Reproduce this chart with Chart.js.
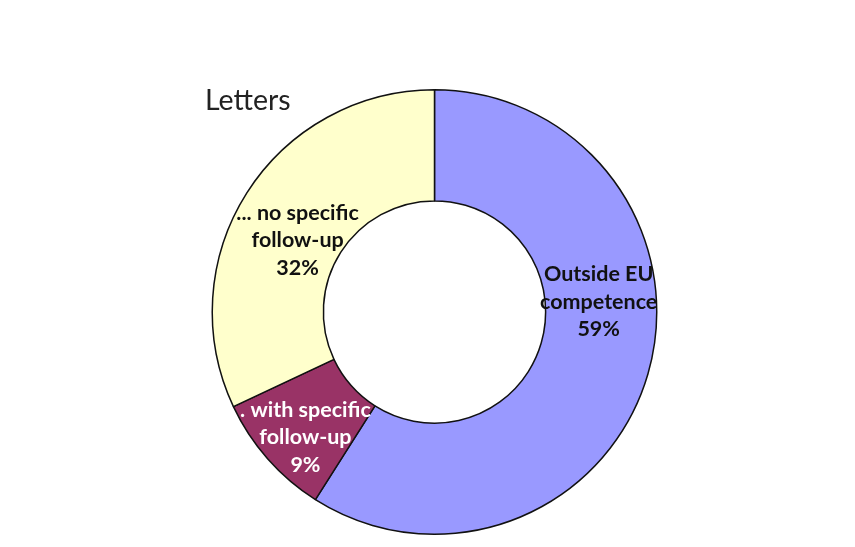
<!DOCTYPE html>
<html>
<head>
<meta charset="utf-8">
<script src="https://cdn.jsdelivr.net/npm/chart.js@4/dist/chart.umd.min.js"></script>
<style>
  html, body { margin: 0; padding: 0; background: #fff; }
  #wrap { position: relative; width: 855px; height: 547px; }
  #title {
    position: absolute; left: 205px; top: 82px;
    font-family: Lato, "Open Sans", sans-serif; font-size: 28.5px; color: #222;
  }
</style>
</head>
<body>
<div id="wrap">
  <canvas id="chart" width="855" height="547"></canvas>
  <div id="title">Letters</div>
</div>
<script>
/* ── Data ── */
const SLICE_LABELS = [
  ['Outside EU', 'competence'],
  ['. with specific', 'follow-up'],
  ['... no specific', 'follow-up'],
];
const SLICE_VALUES = [59, 9, 32];

/* ── Style ── */
const SLICE_COLORS = ['#9999ff', '#993366', '#ffffcc'];
const TEXT_COLORS  = ['#111', '#fff', '#111'];
// label placement inside each ring slice: [angle deg from 12 o'clock, fraction across ring]
const LABEL_SPOTS  = [[86.5, 0.48], [225.8, 0.62], [297.6, 0.39]];

/* ── In-slice labels ── */
const sliceLabels = {
  id: 'sliceLabels',
  afterDatasetsDraw(chart) {
    const { ctx } = chart;
    const meta = chart.getDatasetMeta(0);
    const total = SLICE_VALUES.reduce((a, b) => a + b, 0);
    ctx.save();
    ctx.font = 'bold 21.5px Lato, "Open Sans", sans-serif';
    ctx.textAlign = 'center';
    ctx.textBaseline = 'middle';
    meta.data.forEach((arc, i) => {
      const [deg, frac] = LABEL_SPOTS[i];
      const a = (deg - 90) * Math.PI / 180;
      const r = arc.innerRadius + (arc.outerRadius - arc.innerRadius) * frac;
      const x = arc.x + r * Math.cos(a);
      const y = arc.y + r * Math.sin(a);
      const pct = Math.round(SLICE_VALUES[i] / total * 100) + '%';
      const lines = [...SLICE_LABELS[i], pct];
      ctx.fillStyle = TEXT_COLORS[i];
      lines.forEach((line, k) => {
        ctx.fillText(line, x, y + (k - 1) * 27.5);
      });
    });
    ctx.restore();
  },
};

new Chart(document.getElementById('chart'), {
  type: 'doughnut',
  data: {
    labels: SLICE_LABELS.map(l => l.join(' ')),
    datasets: [{
      data:            SLICE_VALUES,
      backgroundColor: SLICE_COLORS,
      borderColor:     '#111',
      borderWidth:     1.5,
      borderAlign:     'center',
    }],
  },
  options: {
    responsive:  false,
    animation:   false,
    cutout:      '50%',
    layout: { padding: { left: 205, right: 191, top: 89, bottom: 12 } },
    plugins: {
      legend:  { display: false },
      tooltip: { enabled: false },
    },
  },
  plugins: [sliceLabels],
});
</script>
</body>
</html>
